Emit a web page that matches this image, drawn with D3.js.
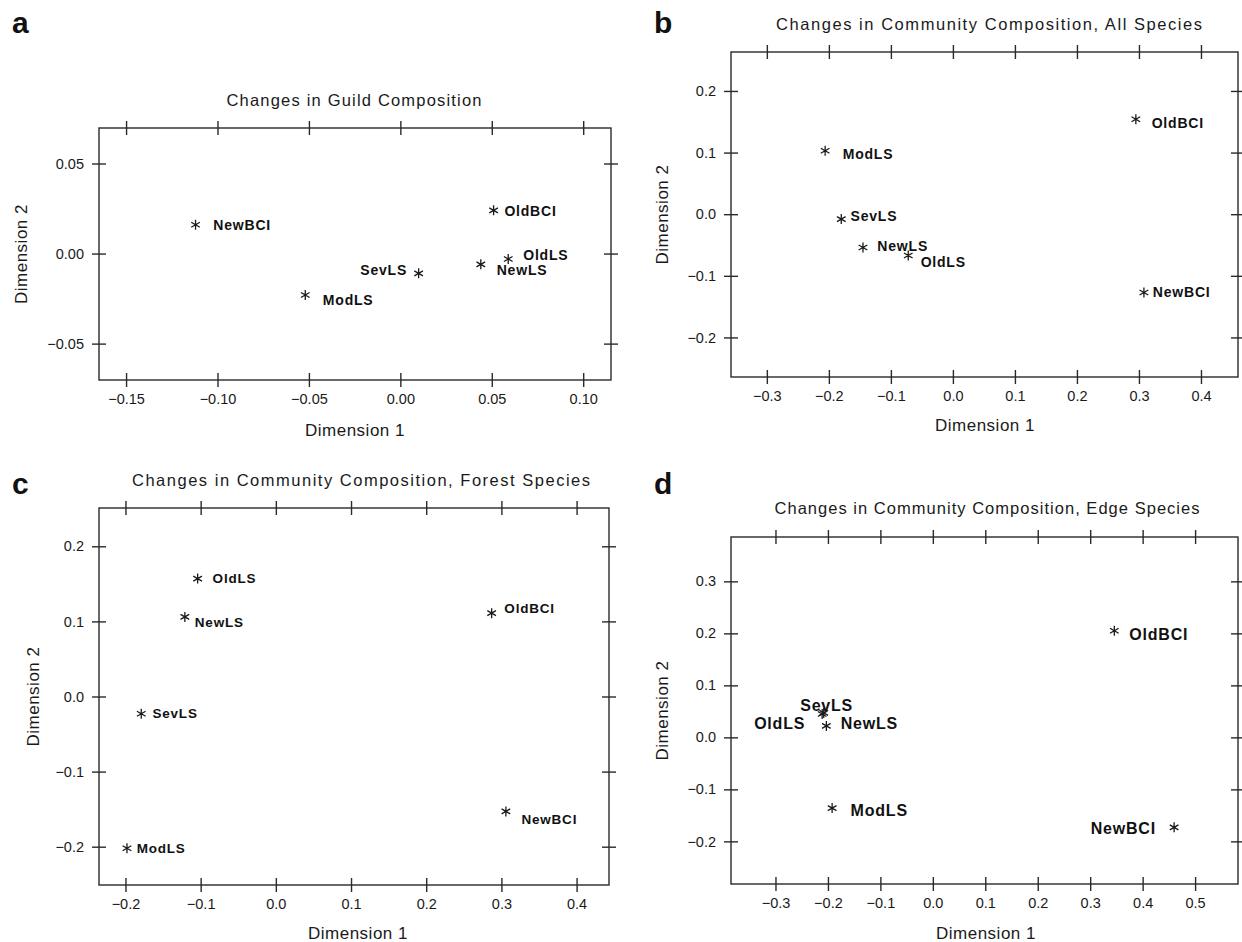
<!DOCTYPE html>
<html>
<head>
<meta charset="utf-8">
<script src="https://cdn.jsdelivr.net/npm/d3@7"></script>
<style>
  html, body { margin: 0; padding: 0; background: #fff; }
  svg { display: block; }
  text { font-family: "Liberation Sans", Arial, Helvetica, sans-serif; fill: #1a1a1a; }
</style>
</head>
<body>
<svg id="chart" width="1242" height="942"></svg>
<script>
// ---------------- DATA ----------------
const sites = ["NewBCI", "OldBCI", "NewLS", "OldLS", "ModLS", "SevLS"];

// Panel a: guild composition
const guildDim1 = [-0.112, 0.051, 0.044, 0.059, -0.052, 0.010];
const guildDim2 = [0.016, 0.024, -0.006, -0.003, -0.023, -0.011];
const guildLabelDim1 = [-0.1023, 0.0569, 0.0527, 0.0672, -0.0424, -0.0219];
const guildLabelDim2 = [0.0157, 0.0236, -0.0090, -0.0010, -0.0258, -0.0090];

// Panel b: all species
const allDim1 = [0.308, 0.295, -0.145, -0.072, -0.206, -0.180];
const allDim2 = [-0.127, 0.154, -0.054, -0.067, 0.103, -0.008];
const allLabelDim1 = [0.3224, 0.3205, -0.1218, -0.052, -0.1777, -0.165];
const allLabelDim2 = [-0.1269, 0.1484, -0.0524, -0.0783, 0.0972, -0.0027];

// Panel c: forest species
const forestDim1 = [0.306, 0.287, -0.121, -0.104, -0.198, -0.179];
const forestDim2 = [-0.153, 0.111, 0.106, 0.157, -0.202, -0.023];
const forestLabelDim1 = [0.3266, 0.3039, -0.1078, -0.0841, -0.1851, -0.1641];
const forestLabelDim2 = [-0.1632, 0.1171, 0.0984, 0.1574, -0.2022, -0.0222];

// Panel d: edge species
const edgeDim1 = [0.460, 0.346, -0.203, -0.208, -0.192, -0.211];
const edgeDim2 = [-0.173, 0.205, 0.022, 0.047, -0.136, 0.045];
const edgeLabelDim1 = [0.3009, 0.3745, -0.1756, -0.3407, -0.1568, -0.2529];
const edgeLabelDim2 = [-0.1744, 0.1974, 0.0276, 0.0276, -0.1397, 0.0609];

// Axis ticks and extents
const guildXTicks = [-0.15, -0.10, -0.05, 0.00, 0.05, 0.10];
const guildYTicks = [-0.05, 0.00, 0.05];
const allXTicks = [-0.3, -0.2, -0.1, 0.0, 0.1, 0.2, 0.3, 0.4];
const allYTicks = [-0.2, -0.1, 0.0, 0.1, 0.2];
const forestXTicks = [-0.2, -0.1, 0.0, 0.1, 0.2, 0.3, 0.4];
const forestYTicks = [-0.2, -0.1, 0.0, 0.1, 0.2];
const edgeXTicks = [-0.3, -0.2, -0.1, 0.0, 0.1, 0.2, 0.3, 0.4, 0.5];
const edgeYTicks = [-0.2, -0.1, 0.0, 0.1, 0.2, 0.3];

const guildXDomain = [-0.1648, 0.1152], guildYDomain = [-0.0702, 0.0697];
const allXDomain = [-0.3578, 0.4597], allYDomain = [-0.2642, 0.2632];
const forestXDomain = [-0.2352, 0.4431], forestYDomain = [-0.251, 0.251];
const edgeXDomain = [-0.3848, 0.5818], edgeYDomain = [-0.282, 0.3853];

const panelLetters = ["a", "b", "c", "d"];
const panelTitles = [
  "Changes in Guild Composition",
  "Changes in Community Composition, All Species",
  "Changes in Community Composition, Forest Species",
  "Changes in Community Composition, Edge Species"
];
const xTitle = "Dimension 1", yTitle = "Dimension 2";

// ---------------- LAYOUT ----------------
const panels = [
  { x: guildDim1, y: guildDim2, lx: guildLabelDim1, ly: guildLabelDim2,
    xt: guildXTicks, yt: guildYTicks, xd: guildXDomain, yd: guildYDomain, dec: 2,
    box: { l: 99, r: 611, t: 128, b: 380 }, letter: { x: 12, y: 33 },
    title: { cx: 354, y: 100, w: 255 }, xl: { cx: 355, y: 430 }, yl: { x: 21 },
    lab: 14 },
  { x: allDim1, y: allDim2, lx: allLabelDim1, ly: allLabelDim2,
    xt: allXTicks, yt: allYTicks, xd: allXDomain, yd: allYDomain, dec: 1,
    box: { l: 731, r: 1238, t: 52, b: 377 }, letter: { x: 654, y: 33 },
    title: { cx: 989, y: 24, w: 426 }, xl: { cx: 985, y: 425 }, yl: { x: 662 },
    lab: 14 },
  { x: forestDim1, y: forestDim2, lx: forestLabelDim1, ly: forestLabelDim2,
    xt: forestXTicks, yt: forestYTicks, xd: forestXDomain, yd: forestYDomain, dec: 1,
    box: { l: 99, r: 609, t: 508, b: 885 }, letter: { x: 12, y: 494 },
    title: { cx: 361, y: 480, w: 458 }, xl: { cx: 358, y: 933 }, yl: { x: 33 },
    lab: 13.5 },
  { x: edgeDim1, y: edgeDim2, lx: edgeLabelDim1, ly: edgeLabelDim2,
    xt: edgeXTicks, yt: edgeYTicks, xd: edgeXDomain, yd: edgeYDomain, dec: 1,
    box: { l: 731, r: 1238, t: 537, b: 884 }, letter: { x: 654, y: 494 },
    title: { cx: 987, y: 508, w: 425 }, xl: { cx: 986, y: 933 }, yl: { x: 662 },
    lab: 16 }
];

const svg = d3.select("#chart");
const ink = "#2a2a2a";

function fmt(v, dec) {
  const s = Math.abs(v).toFixed(dec);
  return (v < -1e-9 ? "\u2212" : "") + s;
}

// asterisk marker path (6 arms)
function starPath(r) {
  const p = d3.path();
  [90, 30, 150].forEach(a => {
    const rad = a * Math.PI / 180;
    const dx = r * Math.cos(rad), dy = r * Math.sin(rad);
    p.moveTo(-dx, -dy); p.lineTo(dx, dy);
  });
  return p.toString();
}

panels.forEach((P, i) => {
  const g = svg.append("g");
  const xs = d3.scaleLinear().domain(P.xd).range([P.box.l, P.box.r]);
  const ys = d3.scaleLinear().domain(P.yd).range([P.box.b, P.box.t]);

  // panel letter
  g.append("text").attr("x", P.letter.x).attr("y", P.letter.y)
    .attr("font-size", 30).attr("font-weight", "bold").style("fill", "#111")
    .text(panelLetters[i]);

  // title
  g.append("text").attr("x", P.title.cx - P.title.w / 2).attr("y", P.title.y)
    .attr("dominant-baseline", "central")
    .attr("font-size", 16.5).attr("textLength", P.title.w).attr("lengthAdjust", "spacing")
    .text(panelTitles[i]);

  // box frame
  g.append("rect").attr("x", P.box.l).attr("y", P.box.t)
    .attr("width", P.box.r - P.box.l).attr("height", P.box.b - P.box.t)
    .attr("fill", "none").attr("stroke", ink).attr("stroke-width", 1.4);

  // axes: ticks crossing the frame on all four sides
  const tk = 7;
  const bottom = d3.axisBottom(xs).tickValues(P.xt).tickSize(tk).tickPadding(8)
    .tickFormat(d => fmt(d, P.dec));
  const top = d3.axisTop(xs).tickValues(P.xt).tickSize(tk).tickFormat("");
  const left = d3.axisLeft(ys).tickValues(P.yt).tickSize(tk).tickPadding(9)
    .tickFormat(d => fmt(d, P.dec));
  const right = d3.axisRight(ys).tickValues(P.yt).tickSize(tk).tickFormat("");

  function styleAxis(sel) {
    sel.select(".domain").remove();
    sel.selectAll(".tick line").attr("stroke", ink).attr("stroke-width", 1.4);
    sel.selectAll(".tick text").attr("font-size", 14.5)
      .attr("font-family", "Liberation Sans, Arial, sans-serif").style("fill", "#1a1a1a");
  }
  const gb = g.append("g").attr("transform", `translate(0,${P.box.b})`).call(bottom);
  styleAxis(gb);
  gb.selectAll(".tick line").attr("y1", -tk).attr("y2", tk);
  gb.selectAll(".tick text").attr("y", 14).attr("dy", "0.71em");

  const gt = g.append("g").attr("transform", `translate(0,${P.box.t})`).call(top);
  styleAxis(gt);
  gt.selectAll(".tick line").attr("y1", -tk).attr("y2", tk);

  const gl = g.append("g").attr("transform", `translate(${P.box.l},0)`).call(left);
  styleAxis(gl);
  gl.selectAll(".tick line").attr("x1", -tk).attr("x2", tk);
  gl.selectAll(".tick text").attr("x", -15);

  const gr = g.append("g").attr("transform", `translate(${P.box.r},0)`).call(right);
  styleAxis(gr);
  gr.selectAll(".tick line").attr("x1", -tk).attr("x2", tk);

  // axis titles
  g.append("text").attr("x", P.xl.cx).attr("y", P.xl.y)
    .attr("text-anchor", "middle").attr("dominant-baseline", "central")
    .attr("font-size", 17).attr("letter-spacing", 0.5).text(xTitle);
  const cy = (P.box.t + P.box.b) / 2;
  g.append("text").attr("transform", `translate(${P.yl.x},${cy}) rotate(-90)`)
    .attr("text-anchor", "middle").attr("dominant-baseline", "central")
    .attr("font-size", 17).attr("letter-spacing", 0.5).text(yTitle);

  // points
  const pts = sites.map((s, k) => ({ s, x: P.x[k], y: P.y[k], lx: P.lx[k], ly: P.ly[k] }));
  g.append("g").selectAll("path").data(pts).join("path")
    .attr("transform", d => `translate(${xs(d.x)},${ys(d.y)})`)
    .attr("d", starPath(5))
    .attr("stroke", "#1a1a1a").attr("stroke-width", 1.3).attr("fill", "none");

  // labels
  g.append("g").selectAll("text").data(pts).join("text")
    .attr("x", d => xs(d.lx)).attr("y", d => ys(d.ly))
    .attr("dominant-baseline", "central")
    .attr("font-size", P.lab).attr("font-weight", "bold").attr("letter-spacing", 0.8)
    .style("fill", "#111")
    .text(d => d.s);
});
</script>
</body>
</html>
